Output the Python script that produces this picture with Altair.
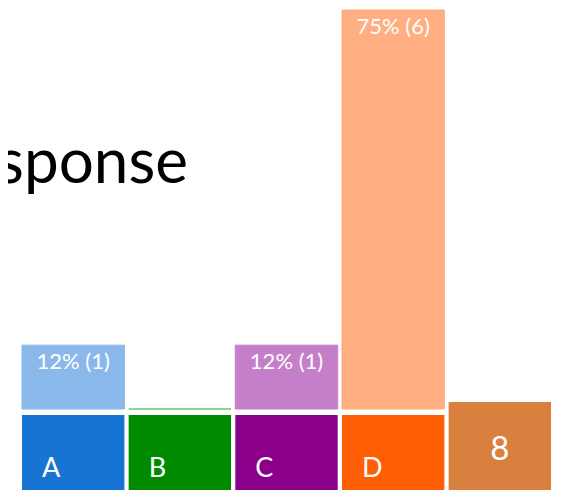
import altair as alt
import pandas as pd

categories = ["A", "B", "C", "D"]
percents = [12, 0, 12, 75]
counts = [1, 0, 1, 6]
dark_colors = ["#1874d2", "#008a00", "#8b008b", "#ff5e05"]
light_colors = ["#8ab8ea", "#6cc46c", "#c57fc8", "#ffae82"]
total_label = ["8"]
total_color = "#d9803f"
title_text = ["Response"]

df = pd.DataFrame({
    "cat": categories,
    "pct": percents,
    "n": counts,
    "dark": dark_colors,
    "light": light_colors,
})
df["label"] = [f"{p}% ({c})" if c else "" for p, c in zip(percents, counts)]

tot = pd.DataFrame({"cat": ["Total"], "label": total_label})
ttl = pd.DataFrame({"t": title_text})

xscale = alt.Scale(domain=categories + ["Total"], range=[14, 543],
                   paddingInner=0.04, paddingOuter=0)
yscale = alt.Scale(domain=[0, 75], range=[401, 2])
X = alt.X("cat:N", scale=xscale, axis=None)

base = alt.Chart(df)

bars = base.mark_bar(strokeWidth=1).encode(
    x=X,
    y=alt.Y("pct:Q", scale=yscale, axis=None),
    color=alt.Color("light:N", scale=None),
    stroke=alt.Stroke("light:N", scale=None),
)

labels = base.mark_text(baseline="middle", dy=17, fontSize=22, font="Lato",
                        color="white").encode(
    x=X,
    y=alt.Y("pct:Q", scale=yscale, axis=None),
    text="label:N",
)

tiles = base.mark_rect().encode(
    x=X,
    y=alt.value(407),
    y2=alt.value(482),
    color=alt.Color("dark:N", scale=None),
)

letters = base.mark_text(align="left", baseline="alphabetic", dx=20,
                         fontSize=27, font="Lato", color="white").encode(
    x=alt.X("cat:N", scale=xscale, axis=None, bandPosition=0),
    y=alt.value(469),
    text="cat:N",
)

tot_box = alt.Chart(tot).mark_rect(color=total_color).encode(
    x=X, y=alt.value(394), y2=alt.value(482)
)
tot_text = alt.Chart(tot).mark_text(baseline="middle", fontSize=33, font="Lato",
                                    color="white").encode(
    x=X, y=alt.value(442), text="label:N"
)

title = alt.Chart(ttl).mark_text(align="right", baseline="alphabetic",
                                 fontSize=62, font="Lato", color="black").encode(
    x=alt.value(180), y=alt.value(175), text="t:N"
)

chart = alt.layer(bars, labels, tiles, letters, tot_box, tot_text, title).properties(
    width=548, height=482,
    autosize=alt.AutoSizeParams(type="none"),
    padding=0,
).configure_view(stroke=None)

chart.save("out.html", embed_options={"renderer": "svg", "actions": False})
